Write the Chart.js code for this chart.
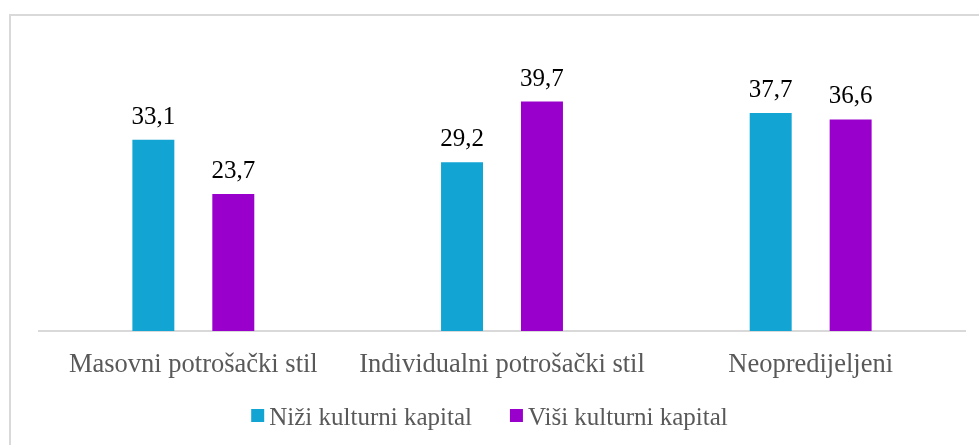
<!DOCTYPE html>
<html>
<head>
<meta charset="utf-8">
<script src="https://cdn.jsdelivr.net/npm/chart.js@4/dist/chart.umd.min.js"></script>
<style>
  html, body { margin: 0; padding: 0; background: #fff; }
  #wrap { position: relative; width: 979px; height: 445px; overflow: hidden; }
  #frame { position: absolute; left: 9px; top: 14px; width: 1200px; height: 600px;
           border-left: 2px solid #d9d9d9; border-top: 2px solid #d9d9d9; box-sizing: border-box; }
  canvas { position: absolute; left: 0; top: 0; }
</style>
</head>
<body>
<div id="wrap">
  <div id="frame"></div>
  <canvas id="c" width="979" height="445"></canvas>
</div>
<script>
const categories = ["Masovni potrošački stil", "Individualni potrošački stil", "Neopredijeljeni"];
const seriesNames = ["Niži kulturni kapital", "Viši kulturni kapital"];
const lowerCapital = [33.1, 29.2, 37.7];
const higherCapital = [23.7, 39.7, 36.6];
const colors = ["#12A5D4", "#9900CC"];

const SERIF = "'Liberation Serif', 'Times New Roman', serif";

const dataLabels = {
  id: 'dataLabels',
  afterDatasetsDraw(chart) {
    const ctx = chart.ctx;
    ctx.save();
    ctx.font = "25px " + SERIF;
    ctx.fillStyle = "#000";
    ctx.textAlign = "center";
    ctx.textBaseline = "alphabetic";
    chart.data.datasets.forEach((ds, i) => {
      const meta = chart.getDatasetMeta(i);
      meta.data.forEach((el, j) => {
        const txt = ds.data[j].toFixed(1).replace('.', ',');
        ctx.fillText(txt, el.x, el.y - 16);
      });
    });
    ctx.restore();
  }
};

const customLegend = {
  id: 'customLegend',
  afterDraw(chart) {
    const ctx = chart.ctx;
    ctx.save();
    ctx.font = "25px " + SERIF;
    ctx.textBaseline = "alphabetic";
    ctx.textAlign = "left";
    const box = 13, gap = 5, itemGap = 38;
    const items = chart.data.datasets.map(ds => ({ text: ds.label, color: ds.backgroundColor, w: ctx.measureText(ds.label).width }));
    let total = 0;
    items.forEach((it, i) => { total += box + gap + it.w + (i < items.length - 1 ? itemGap : 0); });
    let x = chart.width / 2 - total / 2;
    const baseY = 425;
    items.forEach(it => {
      ctx.fillStyle = it.color;
      ctx.fillRect(x, 409, box, box);
      x += box + gap;
      ctx.fillStyle = "#595959";
      ctx.fillText(it.text, x, baseY);
      x += it.w + itemGap;
    });
    ctx.restore();
  }
};

new Chart(document.getElementById('c'), {
  type: 'bar',
  data: {
    labels: categories,
    datasets: [
      { label: seriesNames[0], data: lowerCapital, backgroundColor: colors[0] },
      { label: seriesNames[1], data: higherCapital, backgroundColor: colors[1] }
    ]
  },
  options: {
    responsive: false,
    animation: false,
    devicePixelRatio: 1,
    layout: { padding: { left: 39, right: 14, top: 42, bottom: 0 } },
    categoryPercentage: 0.518,
    barPercentage: 0.525,
    plugins: { legend: { display: false }, tooltip: { enabled: false } },
    scales: {
      y: { display: false, min: 0, max: 50 },
      x: {
        grid: { display: false, drawTicks: false },
        border: { display: true, color: "#d9d9d9", width: 2 },
        ticks: { color: "#595959", font: { family: SERIF, size: 26.5 }, padding: 18, maxRotation: 0, autoSkip: false },
        afterFit(scale) { scale.height = 114; }
      }
    }
  },
  plugins: [dataLabels, customLegend]
});
</script>
</body>
</html>
